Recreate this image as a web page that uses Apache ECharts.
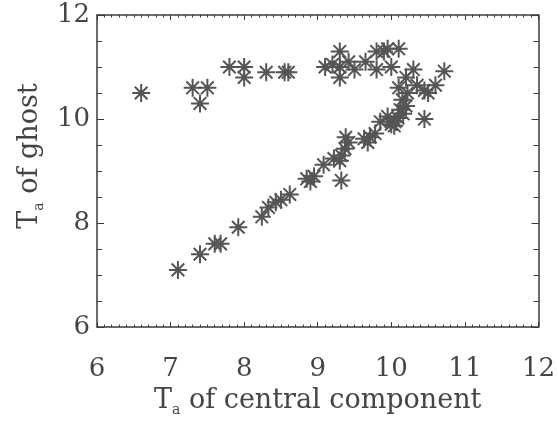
<!DOCTYPE html>
<html>
<head>
<meta charset="utf-8">
<script src="https://cdn.jsdelivr.net/npm/echarts@6/dist/echarts.min.js"></script>
<style>
  html, body { margin: 0; padding: 0; background: #fff; }
  #chart { width: 558px; height: 422px; }
</style>
</head>
<body>
<div id="chart"></div>
<script>
// Antenna temperature of the central component (x) vs. that of the ghost (y)
const centralTa = [
  6.6, 7.3, 7.5, 7.4, 7.8, 8.0, 8.0, 8.3, 8.55, 8.6,
  9.1, 9.2, 9.3, 9.3, 9.3, 9.42, 9.5, 9.65, 9.8, 9.8,
  9.9, 9.95, 10.1, 10.0, 10.3, 10.2, 10.1, 10.35, 10.45, 10.5,
  10.6, 10.72, 10.15, 10.22,
  7.1, 7.4, 7.6, 7.68, 7.92, 8.24, 8.33, 8.43, 8.5, 8.62,
  8.85, 8.9, 8.95, 9.08, 9.22, 9.3, 9.32, 9.32, 9.37, 9.42,
  9.38, 9.63, 9.71, 9.78, 9.68, 9.85, 9.95, 10.0, 10.09, 10.12,
  10.04, 10.16, 10.45, 10.2, 10.05
];
const ghostTa = [
  10.5, 10.6, 10.6, 10.3, 11.0, 11.0, 10.8, 10.9, 10.9, 10.9,
  11.0, 11.05, 11.3, 10.8, 11.0, 11.1, 10.95, 11.1, 10.95, 11.3,
  11.3, 11.35, 11.35, 11.0, 10.95, 10.8, 10.6, 10.65, 10.55, 10.5,
  10.65, 10.92, 10.37, 10.5,
  7.1, 7.4, 7.6, 7.6, 7.92, 8.12, 8.3, 8.4, 8.45, 8.55,
  8.85, 8.8, 8.9, 9.12, 9.24, 9.2, 9.3, 8.82, 9.43, 9.55,
  9.65, 9.62, 9.65, 9.72, 9.55, 9.95, 10.05, 9.9, 10.02, 10.18,
  9.87, 10.1, 10.0, 10.25, 9.95
];
const xTickLabels = [6, 7, 8, 9, 10, 11, 12];
const yTickLabels = [6, 8, 10, 12];

const FONT = '"DejaVu Serif", "Liberation Serif", serif';
const INK = '#454545';
const FRAME = '#3a3a3a';

const points = centralTa.map((x, i) => [x, ghostTa[i]]);

// eight-spoke asterisk, stroked only
const asterisk = 'path://M0,5L10,5M5,0L5,10M1.5,1.5L8.5,8.5M8.5,1.5L1.5,8.5';

const titleRich = {
  T: { fontSize: 27, fontFamily: FONT, color: INK, lineHeight: 30, verticalAlign: 'bottom' },
  a: { fontSize: 14, fontFamily: FONT, color: INK, lineHeight: 30, verticalAlign: 'bottom', padding: [0, 0, -3, 0] },
  r: { fontSize: 27, fontFamily: FONT, color: INK, lineHeight: 30, verticalAlign: 'bottom' }
};

function frameAxis(extra) {
  return Object.assign({
    type: 'value',
    min: 6,
    max: 12,
    splitLine: { show: false },
    axisLine: { show: true, onZero: false, lineStyle: { color: FRAME, width: 1.5 } },
    axisTick: { show: true, inside: true, length: 5, lineStyle: { color: FRAME, width: 1 } },
    minorSplitLine: { show: false }
  }, extra);
}

const chart = echarts.init(document.getElementById('chart'), null, { renderer: 'canvas' });
chart.setOption({
  animation: false,
  backgroundColor: '#fff',
  grid: { left: 97, right: 17, top: 15, bottom: 85, containLabel: false },
  xAxis: [
    frameAxis({
      position: 'bottom',
      interval: 1,
      minorTick: { show: true, splitNumber: 10, length: 2.5, lineStyle: { color: FRAME } },
      axisLabel: {
        margin: 29,
        fontSize: 26,
        fontFamily: FONT,
        color: INK,
        formatter: v => (xTickLabels.includes(Math.round(v)) ? String(Math.round(v)) : '')
      },
      name: '{T|T}{a|a}{r| of central component}',
      nameLocation: 'middle',
      nameGap: 56,
      nameTextStyle: { rich: titleRich }
    }),
    frameAxis({
      position: 'top',
      interval: 1,
      minorTick: { show: true, splitNumber: 10, length: 2.5, lineStyle: { color: FRAME } },
      axisLabel: { show: false }
    })
  ],
  yAxis: [
    frameAxis({
      position: 'left',
      interval: 2,
      axisTick: { show: true, inside: true, length: 7, lineStyle: { color: FRAME, width: 1 } },
      minorTick: { show: true, splitNumber: 4, length: 5, lineStyle: { color: FRAME } },
      axisLabel: {
        margin: 7,
        fontSize: 26,
        fontFamily: FONT,
        color: INK,
        padding: [0, 0, 14, 0],
        formatter: v => (yTickLabels.includes(Math.round(v)) ? String(Math.round(v)) : '')
      },
      name: '{T|T}{a|a}{r| of ghost}',
      nameLocation: 'middle',
      nameRotate: 90,
      nameGap: 50,
      nameTextStyle: { rich: titleRich, padding: [0, 0, 0, 30] }
    }),
    frameAxis({
      position: 'right',
      interval: 2,
      axisTick: { show: true, inside: true, length: 7, lineStyle: { color: FRAME, width: 1 } },
      minorTick: { show: true, splitNumber: 4, length: 5, lineStyle: { color: FRAME } },
      axisLabel: { show: false }
    })
  ],
  series: [{
    type: 'scatter',
    xAxisIndex: 0,
    yAxisIndex: 0,
    data: points,
    symbol: asterisk,
    symbolSize: 18,
    itemStyle: { color: 'none', borderColor: '#555555', borderWidth: 2, opacity: 1 },
    emphasis: { disabled: true }
  }]
});
</script>
</body>
</html>
